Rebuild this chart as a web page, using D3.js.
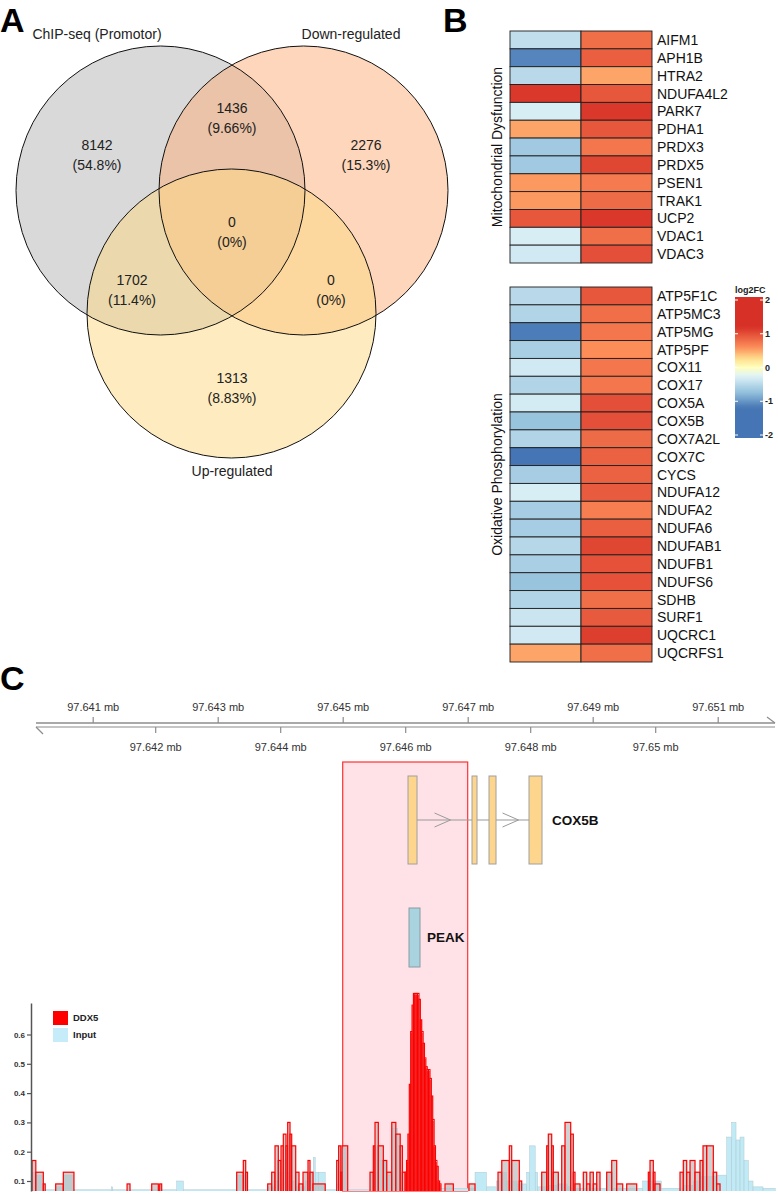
<!DOCTYPE html>
<html>
<head>
<meta charset="utf-8">
<script src="https://cdn.jsdelivr.net/npm/d3@7"></script>
<style>
body{margin:0;background:#fff}
text{font-family:Arial,"Liberation Sans",sans-serif}
</style>
</head>
<body>
<svg id="fig"></svg>
<script>
// ---- data ----
var vennSets = ["ChIP-seq (Promotor)", "Down-regulated", "Up-regulated"];
// regions: A only, B only, C only, AB, AC, BC, ABC
var regionCounts = [8142, 2276, 1313, 1436, 1702, 0, 0];
var regionPct = ["54.8%", "15.3%", "8.83%", "9.66%", "11.4%", "0%", "0%"];

var mitoGenes = ["AIFM1","APH1B","HTRA2","NDUFA4L2","PARK7","PDHA1","PRDX3","PRDX5","PSEN1","TRAK1","UCP2","VDAC1","VDAC3"];
var mitoCol1 = [-0.45,-1.1,-0.5,1.15,-0.3,0.5,-0.65,-0.65,0.55,0.55,0.95,-0.3,-0.35];
var mitoCol2 = [0.8,0.9,0.5,0.95,1.15,0.95,0.75,1.05,0.72,0.82,1.15,0.8,1.0];
var oxGenes = ["ATP5F1C","ATP5MC3","ATP5MG","ATP5PF","COX11","COX17","COX5A","COX5B","COX7A2L","COX7C","CYCS","NDUFA12","NDUFA2","NDUFA6","NDUFAB1","NDUFB1","NDUFS6","SDHB","SURF1","UQCRC1","UQCRFS1"];
var oxCol1 = [-0.5,-0.55,-1.15,-0.6,-0.35,-0.55,-0.33,-0.7,-0.55,-1.2,-0.62,-0.3,-0.62,-0.62,-0.52,-0.6,-0.7,-0.55,-0.38,-0.35,0.5];
var oxCol2 = [0.95,0.8,0.75,0.6,0.75,0.75,1.0,1.0,0.82,0.88,0.88,0.92,0.7,0.9,1.05,0.98,0.98,0.8,0.93,1.1,0.8];
var legendTicks = [2, 1, 0, -1, -2];

// genome region (mb)
var upperTicks = [97.641, 97.643, 97.645, 97.647, 97.649, 97.651];
var lowerTicks = [97.642, 97.644, 97.646, 97.648, 97.65];
var exons = [[97.646045, 97.646189], [97.647069, 97.647149], [97.647341, 97.647453], [97.647981, 97.648189]];
var peakRegion = [97.646061, 97.646237];
var highlight = [97.645, 97.647];
var sigTicks = [0.1, 0.2, 0.3, 0.4, 0.5, 0.6];

// coverage segments: [start, end, value], bp from 97,640,000
var trackStart = 97640000;
var ddx5 = [
[30,90,.17],[90,210,.13],[210,240,.09],
[408,530,.09],[530,700,.13],
[1550,1597,.09],
[1944,2050,.09],[2072,2104,.09],
[3304,3410,.13],[3410,3448,.17],[3448,3477,.13],
[3800,3864,.09],[3864,3917,.13],[3917,3970,.22],[3970,4013,.17],[4013,4050,.22],[4050,4093,.26],[4093,4120,.22],[4120,4157,.30],[4157,4184,.26],[4184,4248,.22],[4248,4301,.13],[4301,4365,.09],[4365,4445,.13],[4445,4477,.17],[4477,4525,.13],[4525,4720,.09],
[4904,4935,.17],[4935,4970,.22],[4970,4990,.13],[4990,5080,.22],
[5437,5490,.13],[5490,5517,.22],[5517,5570,.30],[5570,5650,.22],[5650,5705,.17],[5705,5785,.13],[5785,5850,.30],[5850,5920,.26],[5920,5955,.22],[5955,6000,.13],
[6000,6022,.13],[6022,6044,.17],[6044,6066,.26],[6066,6088,.43],[6088,6110,.61],[6110,6132,.70],[6132,6154,.74],[6154,6176,.74],[6176,6198,.74],[6198,6220,.74],[6220,6242,.72],[6242,6264,.65],[6264,6286,.61],[6286,6308,.57],[6308,6330,.52],[6330,6352,.49],[6352,6374,.48],[6374,6396,.48],[6396,6418,.45],[6418,6440,.39],[6440,6462,.31],[6462,6484,.22],[6484,6506,.17],[6506,6528,.15],[6528,6550,.10],[6550,6572,.09],
[6637,6770,.09],
[7020,7117,.09],
[7485,7545,.13],[7545,7666,.17],[7666,7704,.22],[7704,7826,.17],[7826,7864,.10],
[8184,8264,.13],[8264,8290,.22],[8290,8344,.26],[8344,8370,.22],[8370,8450,.13],[8504,8557,.22],[8557,8648,.30],[8648,8690,.26],[8690,8717,.13],[8717,8797,.09],
[8850,8904,.13],[8904,8957,.09],[8957,9010,.13],[9010,9064,.09],[9064,9117,.13],
[9224,9304,.13],[9304,9384,.17],[9384,9480,.09],[9544,9704,.09],
[9890,9917,.13],[9917,9970,.17],[9970,9997,.13],[9997,10077,.09],
[10397,10450,.13],[10450,10504,.17],[10504,10557,.13],[10557,10637,.17],[10637,10717,.13],[10717,10765,.17],[10765,10824,.22],[10824,10930,.22],[10930,10984,.13],[10984,11037,.09]
];
var input = [
[0,30,.07],[30,90,.13],[90,200,.12],[200,410,.07],[410,530,.08],[530,690,.12],[690,1300,.07],[1300,1320,.08],[1320,2344,.07],[2344,2450,.10],[2450,3300,.07],[3300,3480,.12],[3480,3800,.07],
[3800,3900,.08],[3900,3990,.10],[3990,4060,.13],[4060,4100,.17],[4100,4140,.13],[4140,4250,.10],[4250,4400,.08],[4400,4480,.10],[4480,4530,.13],[4530,4560,.18],[4560,4610,.13],[4610,4720,.13],[4720,4900,.07],
[4900,4990,.09],[4990,5060,.21],[5060,5440,.07],[5440,5480,.12],[5480,5560,.13],[5560,5700,.17],[5700,5785,.12],[5785,5880,.28],[5880,5920,.22],[5920,5990,.075],
[5990,6030,.13],[6030,6130,.10],[6130,6190,.13],[6190,6225,.17],[6225,6260,.22],[6260,6290,.17],[6290,6330,.13],[6330,6400,.08],[6400,7117,.075],
[7117,7300,.13],[7300,7460,.08],[7460,7530,.10],[7530,7620,.13],[7620,7790,.10],[7790,7943,.09],[7943,7990,.13],[7990,8080,.22],[8080,8120,.13],[8120,8310,.08],[8310,8430,.085],[8430,8590,.09],[8590,8660,.08],
[8660,9224,.075],[9224,9320,.13],[9320,9800,.075],[9800,10100,.10],[10100,10450,.075],[10450,10610,.085],[10610,10730,.10],[10730,10984,.115],[10984,11144,.12],
[11144,11224,.25],[11224,11293,.30],[11293,11357,.24],[11357,11421,.25],[11421,11490,.17],[11490,11565,.10],[11565,11725,.08],[11725,11920,.075]
];

// ---- figure ----
var W = 778, H = 1194;
var svg = d3.select("#fig").attr("width", W).attr("height", H);
svg.append("rect").attr("width", W).attr("height", H).attr("fill", "#fff");

svg.selectAll(".panel").data([["A", 0, 32], ["B", 443, 32], ["C", 0, 690]])
  .enter().append("text")
  .attr("x", function(d) { return d[1]; })
  .attr("y", function(d) { return d[2]; })
  .style("font-size", "34px").style("font-weight", "bold")
  .text(function(d) { return d[0]; });

// ---- A: venn ----
var r = 144.5;
var circles = [{cx: 160.5, cy: 190.5, fill: "#b3b3b3"}, {cx: 303.5, cy: 190.5, fill: "#fbad77"}, {cx: 231.5, cy: 313.5, fill: "#fdd981"}];
var setLabelPos = [[97, 39], [351, 39], [232, 476]];
var regionPos = [[97, 150], [366, 150], [232, 383], [232, 113], [132, 285], [331, 285], [232, 227]];

var venn = svg.append("g");
venn.selectAll(".vfill").data(circles).enter().append("circle")
  .attr("cx", function(d) { return d.cx; }).attr("cy", function(d) { return d.cy; })
  .attr("r", r).attr("fill", function(d) { return d.fill; }).attr("fill-opacity", 0.5);
venn.selectAll(".vline").data(circles).enter().append("circle")
  .attr("cx", function(d) { return d.cx; }).attr("cy", function(d) { return d.cy; })
  .attr("r", r).attr("fill", "none").attr("stroke", "#111").attr("stroke-width", 1);
venn.selectAll(".setlab").data(vennSets).enter().append("text")
  .attr("x", function(d, i) { return setLabelPos[i][0]; })
  .attr("y", function(d, i) { return setLabelPos[i][1]; })
  .attr("text-anchor", "middle").style("font-size", "14px").attr("fill", "#222")
  .text(function(d) { return d; });
var reg = venn.selectAll(".reg").data(regionCounts).enter().append("g")
  .attr("transform", function(d, i) { return "translate(" + regionPos[i][0] + "," + regionPos[i][1] + ")"; });
reg.append("text").attr("text-anchor", "middle").style("font-size", "14px").attr("fill", "#222")
  .text(function(d) { return d; });
reg.append("text").attr("y", 20).attr("text-anchor", "middle").style("font-size", "14px").attr("fill", "#222")
  .text(function(d, i) { return "(" + regionPct[i] + ")"; });

// ---- B: heatmap ----
var color = d3.scaleLinear()
  .domain([-2, -1.2, -0.75, -0.25, 0, 0.25, 0.6, 1.2, 2])
  .range(["#4575b4", "#4575b4", "#91bfdb", "#e0f3f8", "#ffffbf", "#fee090", "#fc8d59", "#d73027", "#d73027"])
  .clamp(true);
var colX = d3.scaleBand().domain([0, 1]).range([510, 652]);

function heatBlock(genes, c1, c2, y0, y1, title) {
  var y = d3.scaleBand().domain(genes).range([y0, y1]);
  var g = svg.append("g");
  var rows = genes.map(function(gn, i) { return {gene: gn, v: [c1[i], c2[i]]}; });
  rows.forEach(function(row) {
    g.selectAll(null).data(row.v).enter().append("rect")
      .attr("x", function(d, j) { return colX(j); })
      .attr("y", y(row.gene))
      .attr("width", colX.bandwidth()).attr("height", y.bandwidth())
      .attr("fill", function(d) { return color(d); })
      .attr("stroke", "#1e1e1e").attr("stroke-width", 0.9);
  });
  g.selectAll(".glab").data(genes).enter().append("text")
    .attr("x", 657).attr("y", function(d) { return y(d) + y.bandwidth() / 2; })
    .attr("dy", "0.36em").style("font-size", "14px").attr("fill", "#111")
    .text(function(d) { return d; });
  g.append("text")
    .attr("transform", "translate(502," + ((y0 + y1) / 2) + ") rotate(-90)")
    .attr("text-anchor", "middle").style("font-size", "14px").attr("fill", "#111")
    .text(title);
}
heatBlock(mitoGenes, mitoCol1, mitoCol2, 31, 263, "Mitochondrial Dysfunction");
heatBlock(oxGenes, oxCol1, oxCol2, 287, 662, "Oxidative Phosphorylation");

// colour legend
var yLeg = d3.scaleLinear().domain([-2, 2]).range([435, 300]);
var grad = svg.append("defs").append("linearGradient").attr("id", "lg")
  .attr("x1", 0).attr("y1", 1).attr("x2", 0).attr("y2", 0);
var lo = yLeg.invert(438), hi = yLeg.invert(297);
d3.range(0, 41).forEach(function(i) {
  var v = lo + (hi - lo) * i / 40;
  grad.append("stop").attr("offset", (i / 40 * 100) + "%").attr("stop-color", color(v));
});
svg.append("rect").attr("x", 735).attr("y", 297).attr("width", 28).attr("height", 141).attr("fill", "url(#lg)");
legendTicks.forEach(function(t) {
  svg.append("line").attr("x1", 735).attr("x2", 738).attr("y1", yLeg(t)).attr("y2", yLeg(t)).attr("stroke", "#fff").attr("stroke-width", 1);
  svg.append("line").attr("x1", 760).attr("x2", 763).attr("y1", yLeg(t)).attr("y2", yLeg(t)).attr("stroke", "#fff").attr("stroke-width", 1);
});
svg.selectAll(".legt").data(legendTicks).enter().append("text")
  .attr("x", 765).attr("y", function(d) { return yLeg(d); }).attr("dy", "0.35em")
  .style("font-size", "9px").style("font-weight", "bold").attr("fill", "#222")
  .text(function(d) { return d; });
svg.append("text").attr("x", 735).attr("y", 293).style("font-size", "9px").style("font-weight", "bold")
  .attr("fill", "#222").text("log2FC");

// ---- C: genome browser ----
var xMb = d3.scaleLinear().domain([97.640, 97.652]).range([30.2, 780.2]);
var fmt = function(d) { return d3.format(".3~f")(d) + " mb"; };
var axisCol = "#8c8c8c";

svg.append("line").attr("x1", 36).attr("x2", 775).attr("y1", 723).attr("y2", 723).attr("stroke", axisCol).attr("stroke-width", 1.5);
svg.append("line").attr("x1", 36).attr("x2", 775).attr("y1", 727).attr("y2", 727).attr("stroke", axisCol).attr("stroke-width", 1.2);
svg.append("line").attr("x1", 767).attr("x2", 775).attr("y1", 717).attr("y2", 723).attr("stroke", axisCol).attr("stroke-width", 1.2);
svg.append("line").attr("x1", 36).attr("x2", 43).attr("y1", 727).attr("y2", 734).attr("stroke", axisCol).attr("stroke-width", 1.2);

var topAx = svg.append("g").attr("transform", "translate(0,723)")
  .call(d3.axisTop(xMb).tickValues(upperTicks).tickSize(6).tickPadding(6).tickFormat(fmt));
var botAx = svg.append("g").attr("transform", "translate(0,727)")
  .call(d3.axisBottom(xMb).tickValues(lowerTicks).tickSize(6).tickPadding(10).tickFormat(fmt));
[topAx, botAx].forEach(function(a) {
  a.select(".domain").remove();
  a.selectAll("line").attr("stroke", axisCol).attr("stroke-width", 1.2);
  a.selectAll("text").style("font-size", "11px").attr("fill", "#333").style("font-family", "Arial, 'Liberation Sans', sans-serif");
});

// highlight box
svg.append("rect").attr("x", xMb(highlight[0])).attr("y", 762)
  .attr("width", xMb(highlight[1]) - xMb(highlight[0])).attr("height", 1191 - 762)
  .attr("fill", "#ffe2e7").attr("stroke", "#ff3030").attr("stroke-width", 1.2);

// gene model
var gene = svg.append("g");
gene.append("line").attr("x1", xMb(exons[0][1])).attr("x2", xMb(exons[exons.length - 1][0]))
  .attr("y1", 820).attr("y2", 820).attr("stroke", "#9a9a9a").attr("stroke-width", 1.2);
d3.pairs(exons).forEach(function(p) {
  var a = xMb(p[0][1]), b = xMb(p[1][0]);
  if (b - a < 20) return;
  var m = (a + b) / 2;
  gene.append("polyline").attr("points", [[m - 10, 813], [m + 6, 820], [m - 10, 827]].join(" "))
    .attr("fill", "none").attr("stroke", "#9a9a9a").attr("stroke-width", 1);
});
gene.selectAll(".exon").data(exons).enter().append("rect")
  .attr("x", function(d) { return xMb(d[0]); }).attr("y", 776)
  .attr("width", function(d) { return xMb(d[1]) - xMb(d[0]); }).attr("height", 88)
  .attr("fill", "#fed58c").attr("stroke", "#a0a0a0").attr("stroke-width", 1);
gene.append("text").attr("x", 552).attr("y", 820).attr("dy", "0.36em")
  .style("font-size", "13.5px").style("font-weight", "bold").attr("fill", "#111").text("COX5B");

gene.append("rect").attr("x", xMb(peakRegion[0])).attr("y", 908)
  .attr("width", xMb(peakRegion[1]) - xMb(peakRegion[0])).attr("height", 59)
  .attr("fill", "#a8d3df").attr("stroke", "#8a9ca3").attr("stroke-width", 1);
gene.append("text").attr("x", 427).attr("y", 937).attr("dy", "0.36em")
  .style("font-size", "13.5px").style("font-weight", "bold").attr("fill", "#111").text("PEAK");

// coverage track
var panelBottom = 1191;
var ySig = d3.scaleLinear().domain([0.1, 0.6]).range([1181, 1034.5]);
var xBp = function(bp) { return xMb((trackStart + bp) / 1e6); };

svg.append("defs").append("clipPath").attr("id", "sigclip").append("rect")
  .attr("x", 31).attr("y", 980).attr("width", 750).attr("height", panelBottom - 980);
var sig = svg.append("g").attr("clip-path", "url(#sigclip)");

sig.selectAll(".inp").data(input).enter().append("rect")
  .attr("x", function(d) { return xBp(d[0]); })
  .attr("y", function(d) { return ySig(d[2]); })
  .attr("width", function(d) { return xBp(d[1]) - xBp(d[0]); })
  .attr("height", function(d) { return Math.max(0, panelBottom + 2 - ySig(d[2])); })
  .attr("fill", "#bfeaf6").attr("stroke", "#b3c7cd").attr("stroke-width", 0.5);

sig.selectAll(".dd").data(ddx5).enter().append("rect")
  .attr("x", function(d) { return xBp(d[0]); })
  .attr("y", function(d) { return ySig(d[2]); })
  .attr("width", function(d) { return Math.max(0.5, xBp(d[1]) - xBp(d[0])); })
  .attr("height", function(d) { return Math.max(0, panelBottom + 2 - ySig(d[2])); })
  .attr("fill", "#bdbdbd").attr("fill-opacity", 0.7).attr("stroke", "#ff0000").attr("stroke-width", 1.2);

var yAx = ySig.copy().domain([ySig.invert(panelBottom), ySig.invert(1003)]).range([panelBottom, 1003]);
var ya = svg.append("g").attr("transform", "translate(31,0)")
  .call(d3.axisLeft(yAx).tickValues(sigTicks).tickSize(4).tickSizeOuter(0).tickPadding(2).tickFormat(d3.format(".1f")));
ya.select(".domain").attr("stroke", "#555").attr("stroke-width", 1.5);
ya.selectAll("line").attr("stroke", "#555").attr("stroke-width", 1.2);
ya.selectAll("text").style("font-size", "8px").style("font-weight", "bold").attr("fill", "#333")
  .style("font-family", "Arial, 'Liberation Sans', sans-serif");

var leg = svg.append("g");
[["DDX5", "#ff0000"], ["Input", "#c5ecf8"]].forEach(function(d, i) {
  leg.append("rect").attr("x", 53).attr("y", 1011 + i * 17).attr("width", 15).attr("height", 14).attr("fill", d[1]);
  leg.append("text").attr("x", 73).attr("y", 1018 + i * 17).attr("dy", "0.36em")
    .style("font-size", "9.5px").style("font-weight", "bold").attr("fill", "#222").text(d[0]);
});
</script>
</body>
</html>
